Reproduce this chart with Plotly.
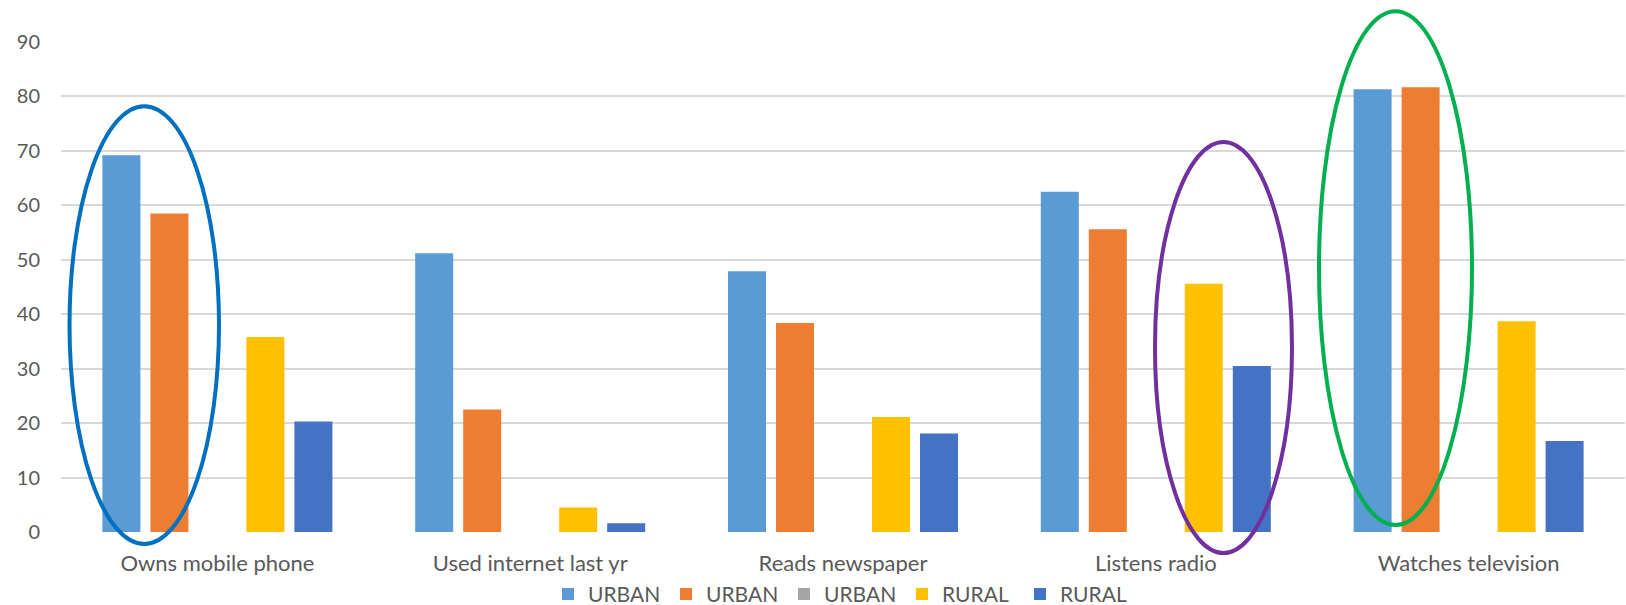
import plotly.graph_objects as go

categories = ["Owns mobile phone", "Used internet last yr", "Reads newspaper", "Listens radio", "Watches television"]
series_names = ["URBAN", "URBAN", "URBAN", "RURAL", "RURAL"]
urban_1 = [69.2, 51.2, 47.9, 62.5, 81.3]
urban_2 = [58.5, 22.5, 38.4, 55.6, 81.7]
urban_3 = [0, 0, 0, 0, 0]
rural_1 = [35.8, 4.5, 21.1, 45.6, 38.7]
rural_2 = [20.3, 1.6, 18.1, 30.5, 16.7]
y_ticks = [0, 10, 20, 30, 40, 50, 60, 70, 80, 90]

series_values = [urban_1, urban_2, urban_3, rural_1, rural_2]
colors = ["#5B9BD5", "#ED7D31", "#A5A5A5", "#FFC000", "#4472C4"]

FONT = "Lato"
fig = go.Figure()
for name, vals, col in zip(series_names, series_values, colors):
    fig.add_trace(go.Bar(x=categories, y=vals, name=name, marker=dict(color=col, line=dict(width=0)),
                         hoverinfo="skip"))

# highlight ellipses (x in category units, y in paper units)
ellipses = [
    (-0.4728, 0.0051, -0.0245, 0.869, "#0070C0"),
    (2.9974, 3.4354, -0.0429, 0.796, "#7030A0"),
    (3.5217, 4.0109, 0.0143, 1.063, "#00B050"),
]
for x0, x1, y0, y1, c in ellipses:
    fig.add_shape(type="circle", xref="x", yref="paper", x0=x0, x1=x1, y0=y0, y1=y1,
                  line=dict(color=c, width=4), fillcolor="rgba(0,0,0,0)", layer="above")

fig.update_layout(
    width=1626, height=605,
    margin=dict(l=61, r=1, t=42, b=73, autoexpand=False),
    plot_bgcolor="white", paper_bgcolor="white",
    barmode="group", bargap=0.2327, bargroupgap=0.2083,
    font=dict(family=FONT, size=21, color="#595959"),
    showlegend=True,
    legend=dict(orientation="h", x=0.5, xanchor="center", y=-0.127, yanchor="middle",
                font=dict(family=FONT, size=21, color="#595959"), traceorder="normal",
                itemwidth=30, entrywidth=73),
    xaxis=dict(showgrid=False, showline=False, ticks="", tickfont=dict(size=22, color="#595959"),
               ticklabelstandoff=16),
    yaxis=dict(range=[0, 90], tickvals=y_ticks, showgrid=True, gridcolor="#D9D9D9", gridwidth=1.5,
               zeroline=False, showline=False, ticks="", tickfont=dict(size=20, color="#595959"),
               ticklabelstandoff=20),
)
fig.write_html("out.html")
